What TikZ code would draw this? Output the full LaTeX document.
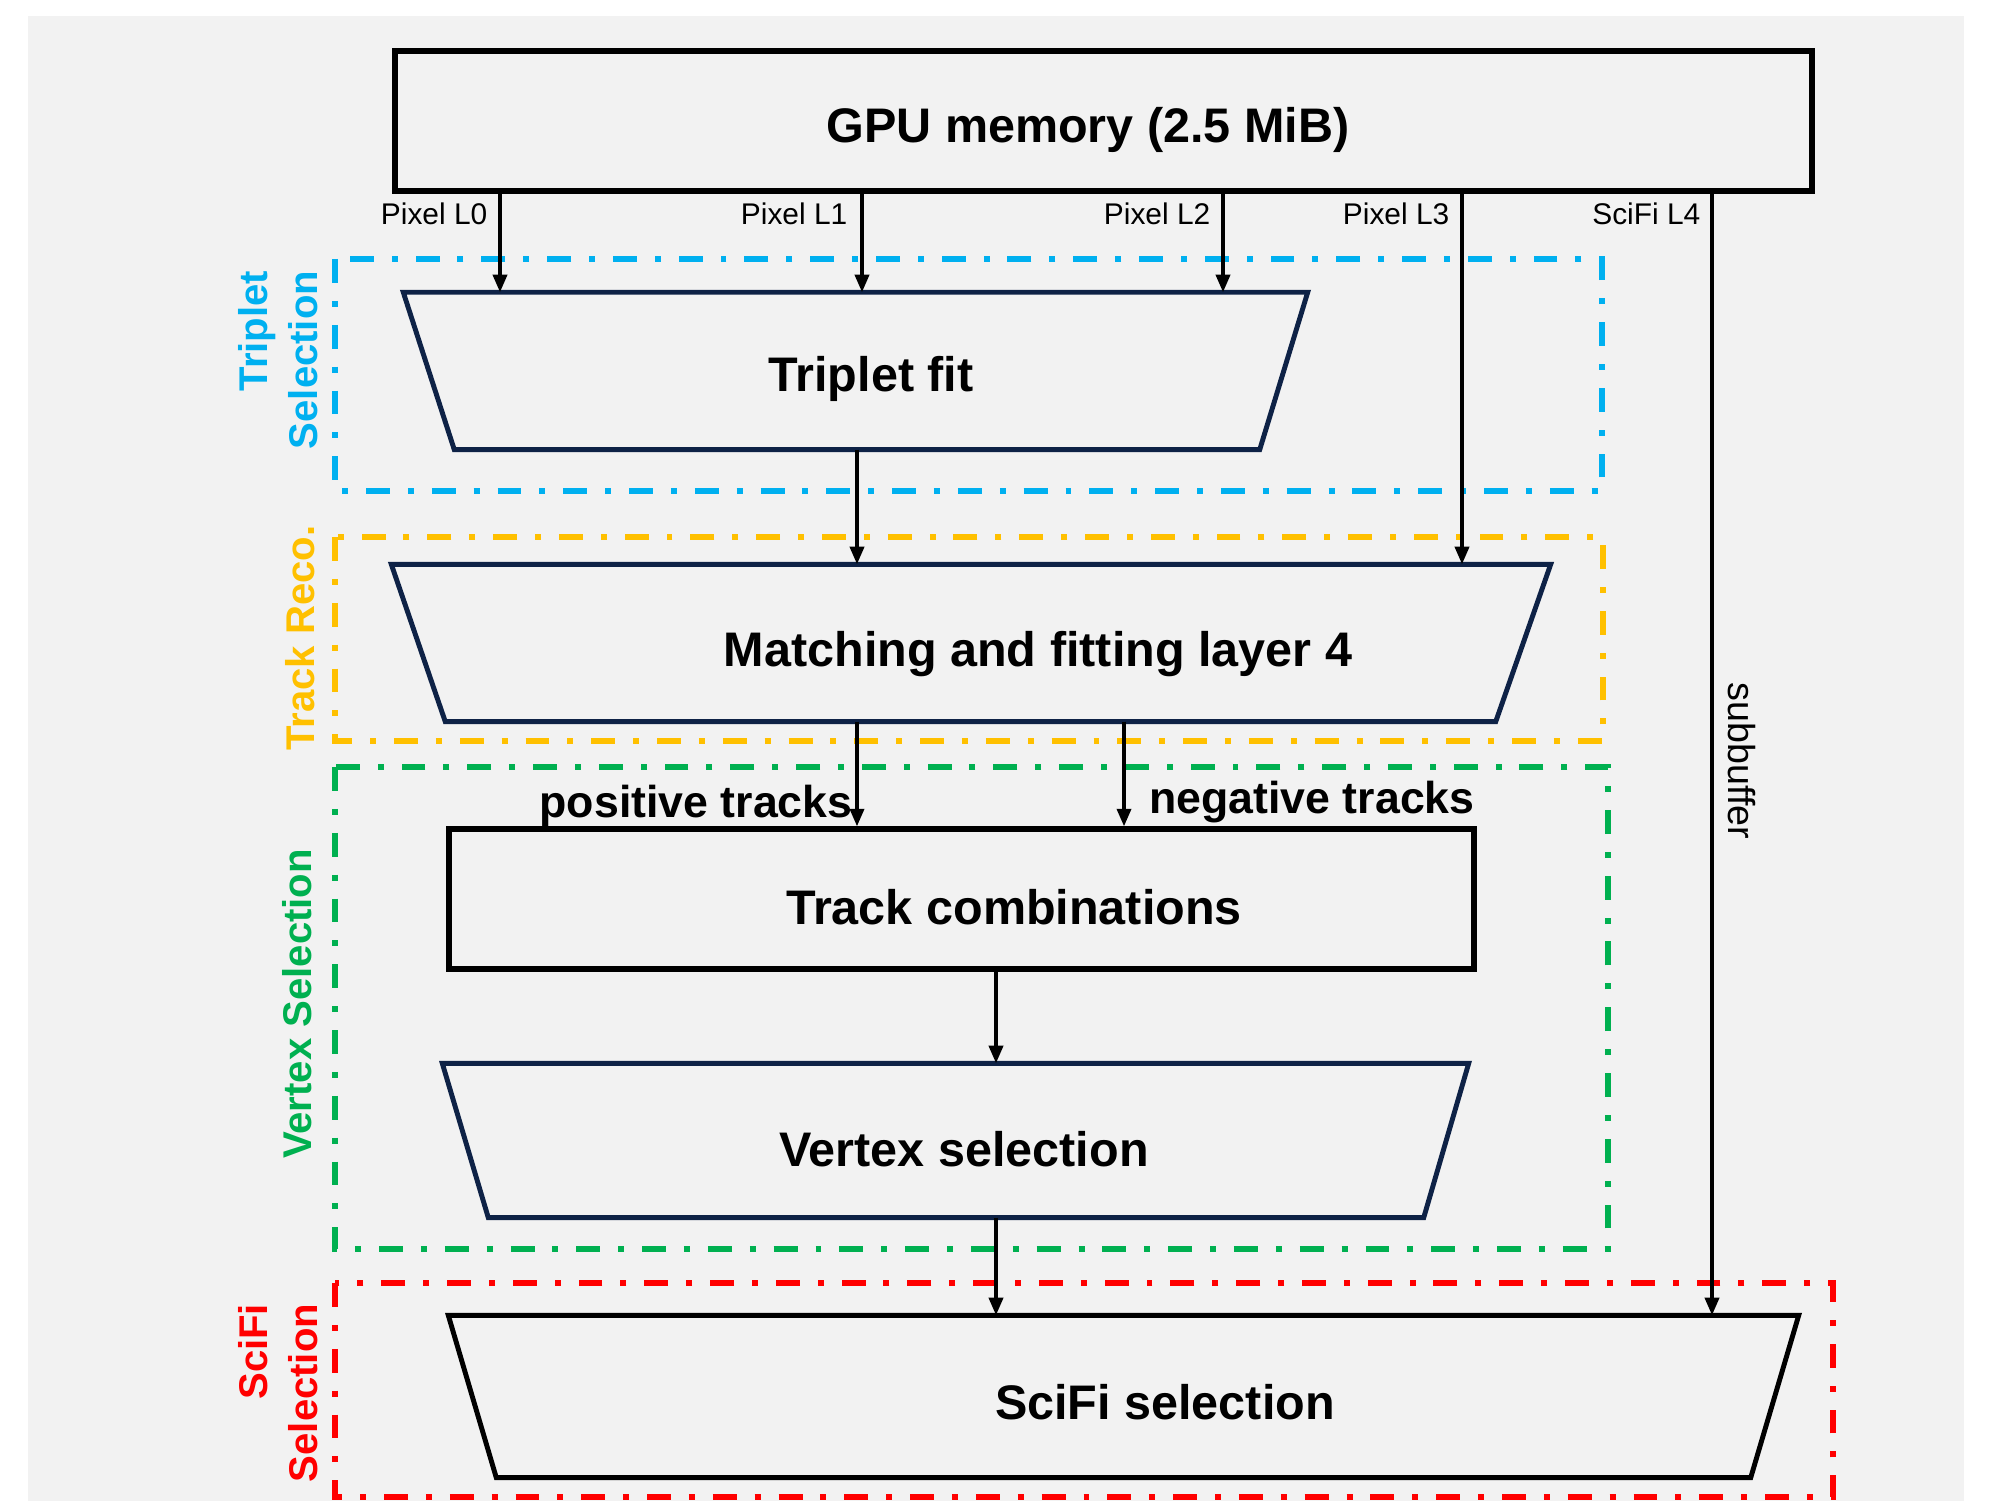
\documentclass[tikz,border=0pt]{standalone}
\usepackage{fontspec}
\setmainfont{Liberation Sans}
\usetikzlibrary{arrows.meta,fit,calc}
\definecolor{bgc}{HTML}{F2F2F2}
\definecolor{navy}{HTML}{0E2246}
\definecolor{cblue}{HTML}{00B0F0}
\definecolor{cyellow}{HTML}{FFC000}
\definecolor{cgreen}{HTML}{00B050}
\definecolor{cred}{HTML}{FF0000}
\tikzset{
 box/.style={draw=black, line width=1.5pt, inner sep=0pt},
 tbox/.style={inner sep=0pt},
 trapline/.style={line width=1.4pt, line join=miter},
 big/.style={font=\fontsize{13.8}{16}\selectfont\bfseries, inner sep=0pt},
 mid/.style={font=\fontsize{12.7}{15}\selectfont\bfseries, inner sep=0pt},
 small/.style={font=\fontsize{8.5}{10}\selectfont, inner sep=0pt},
 sub/.style={font=\fontsize{10.7}{12}\selectfont, inner sep=0pt},
 side/.style={font=\fontsize{11.4}{14.2}\selectfont\bfseries, align=right, rotate=90, inner sep=0pt},
 group/.style={line width=1.6pt, dash pattern=on 6.8pt off 5.1pt on 1.7pt off 5.1pt},
 arr/.style={line width=1pt, -{Triangle[length=5pt,width=4pt]}}
}
\begin{document}
\begin{tikzpicture}[x=0.01cm,y=-0.01cm]
\useasboundingbox (0,0) rectangle (2000,1501);
\fill[bgc] (28,16) rectangle (1964,1501);

% column coordinates
\coordinate (c0) at (500,0);
\coordinate (c1) at (862,0);
\coordinate (c2) at (1223,0);
\coordinate (c3) at (1462,0);
\coordinate (c4) at (1712,0);
\coordinate (cm) at (857,0);
\coordinate (cn) at (1124,0);
\coordinate (cv) at (996,0);

% group frames
\draw[group, cblue] (335,259) rectangle (1602,491);
\draw[group, cyellow] (335,537) rectangle (1603,741);
\draw[group, cgreen] (335,767) rectangle (1608,1249);
\draw[group, cred] (335,1283) rectangle (1833,1497);

% side labels
\node[side, cblue] (lt) at (278,360) {Triplet\\Selection};
\node[side, cyellow] (lr) at (300,638) {Track Reco.};
\node[side, cgreen] (lv) at (297,1004) {Vertex Selection};
\node[side, cred] (ls) at (278,1393) {SciFi\\Selection};

% GPU memory
\node[box, fit={(395,51)(1812,191)}] (gpu) {};
\node[big] (gput) at (1088,130) {GPU memory (2.5 MiB)};

% Triplet fit
\node[tbox, fit={(404,293)(1307,449)}] (tf) {};
\draw[trapline, navy] (tf.north west) -- (tf.north east) -- ($(tf.south east)+(-48,0)$) -- ($(tf.south west)+(51,0)$) -- cycle;
\node[big] (tft) at (871,379) {Triplet fit};

% Matching
\node[tbox, fit={(392,565)(1550,721)}] (mf) {};
\draw[trapline, navy] (mf.north west) -- (mf.north east) -- ($(mf.south east)+(-55,0)$) -- ($(mf.south west)+(54,0)$) -- cycle;
\node[big] (mft) at (1038,654) {Matching and fitting layer 4};

% Track combinations
\node[box, fit={(449,829)(1474,969)}] (tc) {};
\node[big] (tct) at (1014,907) {Track combinations};

% Vertex selection
\node[tbox, fit={(443,1064)(1468,1217)}] (vs) {};
\draw[trapline, navy] (vs.north west) -- (vs.north east) -- ($(vs.south east)+(-45,0)$) -- ($(vs.south west)+(46,0)$) -- cycle;
\node[big] (vst) at (964,1149) {Vertex selection};

% SciFi selection
\node[tbox, fit={(449,1316)(1798,1477)}] (sf) {};
\draw[trapline, black] (sf.north west) -- (sf.north east) -- ($(sf.south east)+(-48,0)$) -- ($(sf.south west)+(48,0)$) -- cycle;
\node[big] (sft) at (1165,1402) {SciFi selection};

% arrows from GPU memory
\draw[arr] (gpu.south -| c0) -- (tf.north -| c0);
\draw[arr] (gpu.south -| c1) -- (tf.north -| c1);
\draw[arr] (gpu.south -| c2) -- (tf.north -| c2);
\draw[arr] (gpu.south -| c3) -- (mf.north -| c3);
\draw[arr] (gpu.south -| c4) -- (sf.north -| c4);

\node[small, anchor=east] (p0) at (488,214) {Pixel L0};
\node[small, anchor=east] (p1) at (848,214) {Pixel L1};
\node[small, anchor=east] (p2) at (1211,214) {Pixel L2};
\node[small, anchor=east] (p3) at (1450,214) {Pixel L3};
\node[small, anchor=east] (p4) at (1701,214) {SciFi L4};
\node[sub, rotate=-90] (sb) at (1742,761) {subbuffer};

% internal arrows
\draw[arr] (tf.south -| cm) -- (mf.north -| cm);
\draw[arr] (mf.south -| cm) -- (tc.north -| cm);
\draw[arr] (mf.south -| cn) -- (tc.north -| cn);
\draw[arr] (tc.south -| cv) -- (vs.north -| cv);
\draw[arr] (vs.south -| cv) -- (sf.north -| cv);

\node[mid] (pt) at (696,806) {positive tracks};
\node[mid] (nt) at (1312,802) {negative tracks};
\end{tikzpicture}
\end{document}
